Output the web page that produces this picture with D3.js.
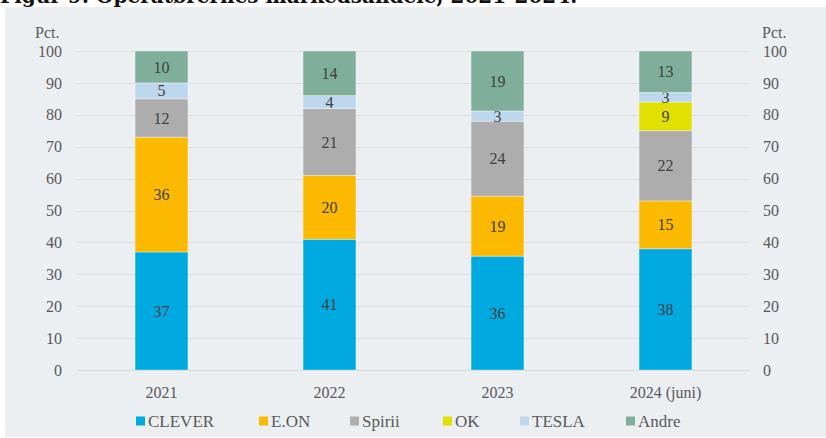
<!DOCTYPE html>
<html>
<head>
<meta charset="utf-8">
<script src="https://cdn.jsdelivr.net/npm/d3@7"></script>
<style>
  body { margin: 0; background: #fff; }
  svg { display: block; }
</style>
</head>
<body>
<script>
// data (2023 values, labels rounded)
var years = ["2021", "2022", "2023", "2024 (juni)"];
var operators = ["CLEVER", "E.ON", "Spirii", "OK", "TESLA", "Andre"];
var clever = [37, 41, 35.7, 38];
var eon    = [36, 20, 18.8, 15];
var spirii = [12, 21, 23.5, 22];
var ok     = [0, 0, 0, 9];
var tesla  = [5, 4, 3.2, 3];
var andre  = [10, 14, 18.8, 13];
var yTicks = [0, 10, 20, 30, 40, 50, 60, 70, 80, 90, 100];
var colours = ["#00a9e0", "#fbb900", "#adadad", "#e1e000", "#bdd7ee", "#7faf9b"];

var width = 826, height = 438;
var margin = {left: 77.5, right: 76.5, top: 51, bottom: 68};

var rows = years.map(function(y, i) {
  return {year: y, CLEVER: clever[i], "E.ON": eon[i], Spirii: spirii[i], OK: ok[i], TESLA: tesla[i], Andre: andre[i]};
});

var svg = d3.select("body").append("svg")
  .attr("width", width)
  .attr("height", height);

svg.append("rect")
  .attr("x", 5).attr("y", 7)
  .attr("width", 821).attr("height", 430)
  .attr("fill", "#ebeff2");

svg.append("text")
  .attr("x", 0).attr("y", 3)
  .attr("font-family", "DejaVu Serif")
  .attr("font-weight", "bold")
  .attr("font-size", "20px")
  .attr("fill", "#111")
  .text("Figur 9: Operatørernes markedsandele, 2021-2024.");

var x = d3.scaleBand()
  .domain(years)
  .range([margin.left, width - margin.right])
  .paddingInner(0.685)
  .paddingOuter(0.3425);

var y = d3.scaleLinear()
  .domain([0, 100])
  .range([height - margin.bottom, margin.top]);

// gridlines
svg.append("g").selectAll("line")
  .data(yTicks)
  .enter().append("line")
  .attr("x1", margin.left)
  .attr("x2", width - margin.right)
  .attr("y1", function(d) { return Math.round(y(d)) + 0.5; })
  .attr("y2", function(d) { return Math.round(y(d)) + 0.5; })
  .attr("stroke", function(d) { return d == 0 ? "#d3d6d9" : "#dadcde"; })
  .attr("stroke-width", 1);

var tickFont = "Liberation Serif";

svg.append("g").selectAll("text")
  .data(yTicks)
  .enter().append("text")
  .attr("x", 62)
  .attr("y", function(d) { return y(d); })
  .attr("dy", "0.35em")
  .attr("text-anchor", "end")
  .attr("font-family", tickFont)
  .attr("font-size", "16px")
  .attr("fill", "#595959")
  .text(function(d) { return d; });

svg.append("g").selectAll("text")
  .data(yTicks)
  .enter().append("text")
  .attr("x", 763)
  .attr("y", function(d) { return y(d); })
  .attr("dy", "0.35em")
  .attr("text-anchor", "start")
  .attr("font-family", tickFont)
  .attr("font-size", "16px")
  .attr("fill", "#595959")
  .text(function(d) { return d; });

svg.append("text")
  .attr("x", 35).attr("y", 38)
  .attr("font-family", tickFont).attr("font-size", "16px")
  .attr("fill", "#595959").text("Pct.");
svg.append("text")
  .attr("x", 762).attr("y", 38)
  .attr("font-family", tickFont).attr("font-size", "16px")
  .attr("fill", "#595959").text("Pct.");

var stack = d3.stack().keys(operators);
var series = stack(rows);

var layer = svg.append("g").selectAll("g")
  .data(series)
  .enter().append("g")
  .attr("fill", function(d, i) { return colours[i]; });

layer.selectAll("rect")
  .data(function(d) { return d; })
  .enter().append("rect")
  .attr("x", function(d) { return x(d.data.year); })
  .attr("y", function(d) { return y(d[1]); })
  .attr("width", x.bandwidth())
  .attr("height", function(d) { return y(d[0]) - y(d[1]); })
  .attr("stroke", "#ffffff")
  .attr("stroke-opacity", 0.5)
  .attr("stroke-width", 0.75);

layer.selectAll("text")
  .data(function(d) { return d.filter(function(s) { return s[1] - s[0] > 0; }); })
  .enter().append("text")
  .attr("x", function(d) { return x(d.data.year) + x.bandwidth() / 2; })
  .attr("y", function(d) { return y((d[0] + d[1]) / 2); })
  .attr("dy", "0.35em")
  .attr("text-anchor", "middle")
  .attr("font-family", tickFont)
  .attr("font-size", "16px")
  .attr("fill", "#404040")
  .text(function(d) { return Math.round(d[1] - d[0]); });

// x labels
svg.append("g").selectAll("text")
  .data(years)
  .enter().append("text")
  .attr("x", function(d) { return x(d) + x.bandwidth() / 2; })
  .attr("y", 392)
  .attr("dy", "0.35em")
  .attr("text-anchor", "middle")
  .attr("font-family", tickFont)
  .attr("font-size", "16px")
  .attr("fill", "#595959")
  .text(function(d) { return d; });

// legend
var legendX = [136, 259, 350, 443, 520, 626];
var legend = svg.append("g").selectAll("g")
  .data(operators)
  .enter().append("g")
  .attr("transform", function(d, i) { return "translate(" + legendX[i] + ",421)"; });

legend.append("rect")
  .attr("x", 0).attr("y", -4.5)
  .attr("width", 9).attr("height", 9)
  .attr("fill", function(d, i) { return colours[i]; });

legend.append("text")
  .attr("x", 12)
  .attr("y", 0)
  .attr("dy", "0.35em")
  .attr("font-family", tickFont)
  .attr("font-size", "17px")
  .attr("fill", "#595959")
  .text(function(d) { return d; });
</script>
</body>
</html>
